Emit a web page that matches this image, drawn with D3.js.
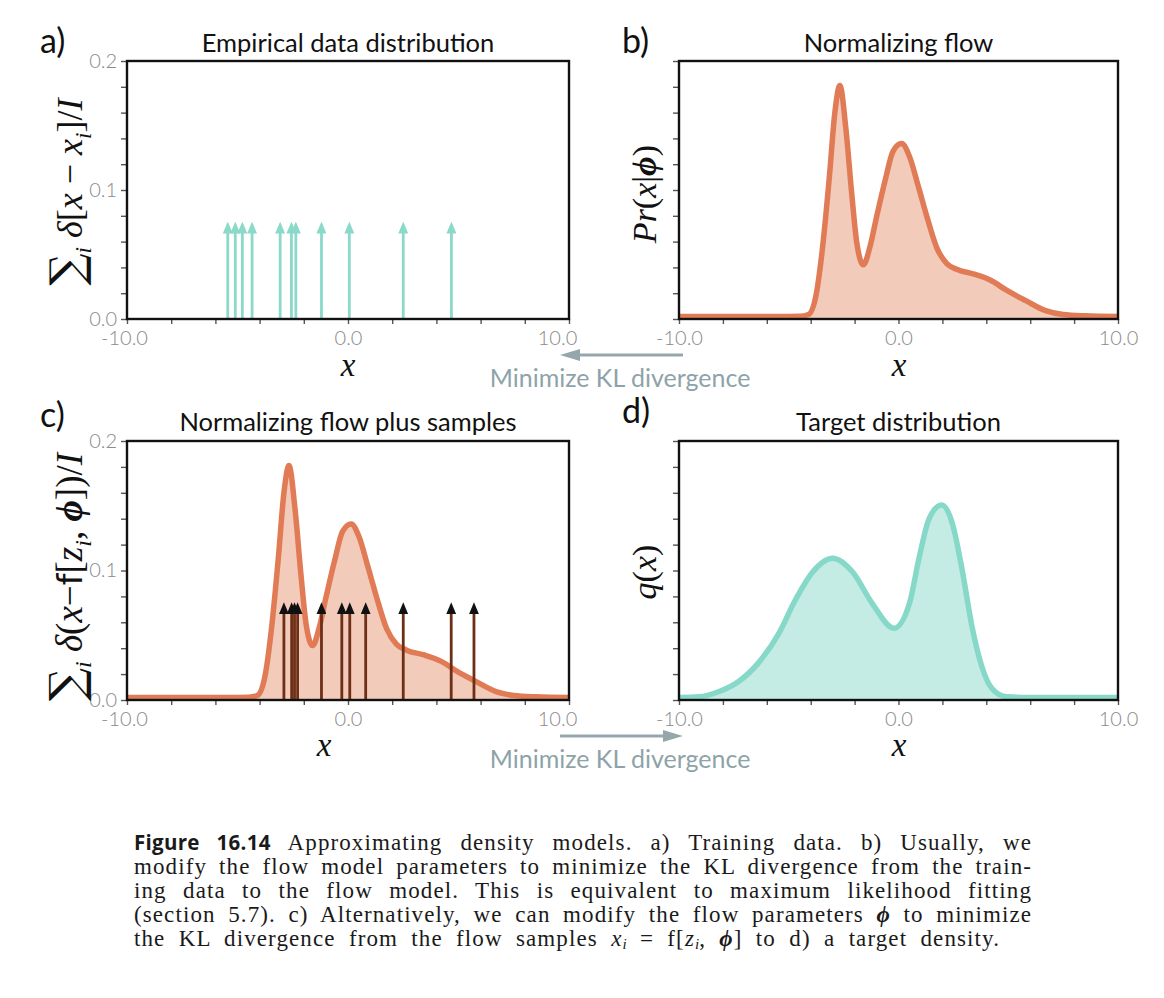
<!DOCTYPE html>
<html>
<head>
<meta charset="utf-8">
<script src="https://cdn.jsdelivr.net/npm/d3@7"></script>
<style>
  body { margin: 0; background: #fff; }
  #caption {
    position: absolute; left: 134px; top: 830px; width: 898px;
    font-family: "Liberation Serif", serif; font-size: 23px; line-height: 24px;
    color: #1a1a1a; letter-spacing: 1.1px;
  }
  #caption div { text-align: justify; text-align-last: justify; white-space: nowrap; }
  #caption div.last { width: 866px; }
  #caption .sf { font-family: "Open Sans", sans-serif; font-weight: 700; font-size: 20.5px; letter-spacing: 0.3px; }
  #caption sub { font-size: 15px; vertical-align: -3px; line-height: 0; letter-spacing: 0; }
</style>
</head>
<body>
<svg id="fig" width="1164" height="998"></svg>
<script>
// ---- data ----
const panelTitles = ['Empirical data distribution', 'Normalizing flow', 'Normalizing flow plus samples', 'Target distribution']
const panelLetters = ['a)', 'b)', 'c)', 'd)']

const xTickValues = [-10, -8, -6, -4, -2, 0, 2, 4, 6, 8, 10]
const xLabelValues = [-10, 0, 10]
const xLabelText = ['-10.0', '0.0', '10.0']
const yTickValues = [0, 0.02, 0.04, 0.06, 0.08, 0.1, 0.12, 0.14, 0.16, 0.18, 0.2]
const yLabelValues = [0, 0.1, 0.2]
const yLabelText = ['0.0', '0.1', '0.2']

// training data points (panel a)
const dataX = [-5.44, -5.1, -4.78, -4.34, -3.07, -2.56, -2.36, -1.2, 0.06, 2.5, 4.68]
// flow samples (panel c)
const sampleX = [-2.9, -2.55, -2.42, -2.28, -1.2, -0.28, 0.08, 0.8, 2.5, 4.67, 5.7]
const arrowTip = 0.0755

// normalizing flow density
const flowX = [-10, -7, -5, -4.5, -4.1, -3.75, -3.45, -3.15, -2.9, -2.67, -2.4, -2.13, -1.9, -1.6, -1.3, -1.0, -0.6, -0.25, 0.14, 0.5, 0.9, 1.3, 1.75, 2.2, 2.65, 3.4, 4.2, 4.9, 5.8, 6.7, 7.5, 8.5, 10]
const flowY = [0.002, 0.002, 0.002, 0.0021, 0.0035, 0.019, 0.057, 0.110, 0.160, 0.181, 0.148, 0.097, 0.059, 0.042, 0.056, 0.079, 0.108, 0.130, 0.136, 0.126, 0.103, 0.079, 0.055, 0.043, 0.0385, 0.035, 0.030, 0.0225, 0.0142, 0.0065, 0.0035, 0.0025, 0.002]

// target density
const targetX = [-10, -9.1, -8.2, -7.3, -6.4, -5.45, -4.7, -3.9, -3.0, -2.1, -1.2, -0.2, 0.5, 0.95, 1.4, 1.97, 2.45, 2.9, 3.35, 3.8, 4.25, 4.9, 6, 10]
const targetY = [0.002, 0.0025, 0.0064, 0.0141, 0.0283, 0.0515, 0.0772, 0.099, 0.1094, 0.099, 0.0747, 0.0554, 0.0747, 0.1107, 0.1403, 0.1506, 0.1365, 0.1004, 0.0566, 0.0257, 0.009, 0.0025, 0.002, 0.002]

const arrowText = 'Minimize KL divergence'

const captionLines = [
  '<span class="sf">Figure 16.14</span> Approximating density models. a) Training data. b) Usually, we',
  'modify the flow model parameters to minimize the KL divergence from the train-',
  'ing data to the flow model. This is equivalent to maximum likelihood fitting',
  '(section 5.7). c) Alternatively, we can modify the flow parameters <b><i>ϕ</i></b> to minimize',
  'the KL divergence from the flow samples <i>x</i><sub><i>i</i></sub> = f[<i>z</i><sub><i>i</i></sub>, <b><i>ϕ</i></b>] to d) a target density.'
]

// ---- colours ----
const FLOW_LINE = '#e07b56'
const FLOW_FILL = '#f3cbbb'
const TEAL_LINE = '#86d8c8'
const TEAL_FILL = '#c4ebe4'
const TEAL_ARROW = '#8ad9c9'
const BROWN = '#6e2f17'
const GREY = '#95a7ab'
const MATH = '"Liberation Serif", serif'
const SANS = 'Lato, "Open Sans", sans-serif'

const svg = d3.select('#fig')
const defs = svg.append('defs')

function addMarker(id, color, len, wid, ref) {
    defs.append('marker')
        .attr('id', id)
        .attr('viewBox', `0 0 ${len} ${wid}`)
        .attr('refX', ref).attr('refY', wid / 2)
        .attr('markerWidth', len).attr('markerHeight', wid)
        .attr('markerUnits', 'userSpaceOnUse')
        .attr('orient', 'auto')
        .append('path')
        .attr('d', `M0,0 L${len},${wid / 2} L0,${wid} Z`)
        .attr('fill', color)
}
addMarker('headTeal', TEAL_ARROW, 12, 10, 5)
addMarker('headBlack', '#111', 12, 10, 5)
addMarker('headGrey', GREY, 20, 12, 8)

// math text helper: segments of [text, kind]
function mathText(sel, segs, size) {
    const t = sel.append('text')
        .attr('text-anchor', 'middle')
        .style('font-family', MATH)
        .style('font-size', size + 'px')
        .attr('fill', '#111')
    let shifted = 0
    segs.forEach(([txt, kind]) => {
        const ts = t.append('tspan').text(txt)
        let dy = 0
        const sub = Math.round(size * 0.24)
        if (kind === 'sub') { dy = sub - shifted; shifted = sub } else { dy = -shifted; shifted = 0 }
        if (dy) ts.attr('dy', dy)
        if (kind === 'it') ts.style('font-style', 'italic')
        if (kind === 'bit') ts.style('font-style', 'italic').style('font-weight', 'bold')
        if (kind === 'sub') ts.style('font-style', 'italic').style('font-size', (size * 0.65) + 'px')
        if (kind === 'sum') ts.style('font-family', '"DejaVu Serif", serif').style('font-size', (size * 1.25) + 'px')
        if (kind === 'sf') ts.style('font-family', '"DejaVu Sans", sans-serif').style('font-size', (size * 0.9) + 'px')
    })
    return t
}

// layout of the four panels (pixels); labelShift nudges the -10/10 tick labels as in the original
const panels = [
    { left: 127, top: 61, w: 442, h: 258, labels: true, titleY: 52, letterX: 40, letterY: 53, xlabX: 348, xlabY: 376, ylabX: 82, ylabY: 192, ylabSize: 36, labelShift: [-3, 0, -12],
      ylab: [['∑', 'sum'], ['i', 'sub'], [' δ', 'it'], ['[', 'rm'], ['x', 'it'], [' − ', 'rm'], ['x', 'it'], ['i', 'sub'], [']/', 'rm'], ['I', 'it']] },
    { left: 679, top: 61, w: 439, h: 258, labels: false, titleY: 52, letterX: 622, letterY: 53, xlabX: 899, xlabY: 376, ylabX: 656, ylabY: 194, ylabSize: 34, labelShift: [0, 0, 0],
      ylab: [['Pr', 'it'], ['(', 'rm'], ['x', 'it'], ['|', 'rm'], ['ϕ', 'bit'], [')', 'rm']] },
    { left: 127, top: 441, w: 442, h: 259, labels: true, titleY: 431, letterX: 40, letterY: 427, xlabX: 324, xlabY: 756, ylabX: 82, ylabY: 577, ylabSize: 37, labelShift: [-3, 0, -12],
      ylab: [['∑', 'sum'], ['i', 'sub'], [' δ', 'it'], ['(', 'rm'], ['x', 'it'], ['−', 'rm'], ['f', 'sf'], ['[', 'rm'], ['z', 'it'], ['i', 'sub'], [', ', 'rm'], ['ϕ', 'bit'], ['])/', 'rm'], ['I', 'it']] },
    { left: 679, top: 441, w: 439, h: 259, labels: false, titleY: 431, letterX: 622, letterY: 423, xlabX: 899, xlabY: 756, ylabX: 656, ylabY: 572, ylabSize: 34, labelShift: [0, 0, 0],
      ylab: [['q', 'it'], ['(', 'rm'], ['x', 'it'], [')', 'rm']] }
]

function drawPanel(p, i) {
    const g = svg.append('g').attr('transform', `translate(${p.left},${p.top})`)
    const x = d3.scaleLinear().domain([-10, 10]).range([0, p.w])
    const y = d3.scaleLinear().domain([0, 0.2]).range([p.h, 0])

    // x axis
    const xa = g.append('g')
        .attr('transform', `translate(0,${p.h})`)
        .call(d3.axisBottom(x).tickValues(xTickValues).tickSize(5).tickPadding(7)
            .tickFormat(d => { const k = xLabelValues.indexOf(d); return k >= 0 ? xLabelText[k] : '' }))
    xa.selectAll('.tick text').attr('dx', d => {
        const k = xLabelValues.indexOf(d)
        return k >= 0 ? p.labelShift[k] : 0
    })
    // y axis
    const ya = g.append('g')
        .call(d3.axisLeft(y).tickValues(yTickValues).tickSize(6).tickPadding(4)
            .tickFormat(d => {
                if (!p.labels) return ''
                const k = yLabelValues.findIndex(v => Math.abs(v - d) < 1e-9)
                return k >= 0 ? yLabelText[k] : ''
            }))
    ;[xa, ya].forEach(a => {
        a.select('.domain').remove()
        a.selectAll('.tick line').attr('stroke', '#555').attr('stroke-width', 1.4)
        a.selectAll('.tick text').attr('fill', '#8a8a8a')
            .style('font-family', SANS).style('font-weight', 300).style('font-size', '20px')
    })

    // title and panel letter
    svg.append('text')
        .attr('x', p.left + p.w / 2).attr('y', p.titleY)
        .attr('text-anchor', 'middle')
        .style('font-family', SANS).style('font-size', '25.5px')
        .attr('fill', '#111')
        .text(panelTitles[i])
    svg.append('text')
        .attr('x', p.letterX).attr('y', p.letterY)
        .style('font-family', SANS).style('font-size', '34px')
        .attr('fill', '#111')
        .text(panelLetters[i])

    // axis labels
    mathText(svg.append('g').attr('transform', `translate(${p.xlabX},${p.xlabY})`), [['x', 'it']], 33)
    mathText(svg.append('g').attr('transform', `translate(${p.ylabX},${p.ylabY}) rotate(-90)`), p.ylab, p.ylabSize)

    return { g, x, y }
}

function drawDensity(pn, xs, ys, line, fill) {
    const pts = xs.map((v, k) => [v, ys[k]])
    pn.g.append('path')
        .datum(pts)
        .attr('d', d3.area().x(d => pn.x(d[0])).y0(pn.y(0)).y1(d => pn.y(d[1])).curve(d3.curveMonotoneX))
        .attr('fill', fill)
    pn.g.append('path')
        .datum(pts)
        .attr('d', d3.line().x(d => pn.x(d[0])).y(d => pn.y(d[1])).curve(d3.curveMonotoneX))
        .attr('fill', 'none')
        .attr('stroke', line)
        .attr('stroke-width', 5.5)
        .attr('stroke-linejoin', 'round')
}

function drawArrows(pn, xs, color, marker) {
    pn.g.selectAll(null)
        .data(xs)
        .enter()
        .append('line')
        .attr('x1', d => pn.x(d)).attr('x2', d => pn.x(d))
        .attr('y1', pn.y(0)).attr('y2', pn.y(arrowTip) + 7)
        .attr('stroke', color)
        .attr('stroke-width', 2.8)
        .attr('marker-end', `url(#${marker})`)
}

function drawFrame(pn, p) {
    pn.g.append('rect')
        .attr('width', p.w).attr('height', p.h)
        .attr('fill', 'none')
        .attr('stroke', '#111')
        .attr('stroke-width', 2.4)
}

const pa = drawPanel(panels[0], 0)
drawArrows(pa, dataX, TEAL_ARROW, 'headTeal')
drawFrame(pa, panels[0])

const pb = drawPanel(panels[1], 1)
drawDensity(pb, flowX, flowY, FLOW_LINE, FLOW_FILL)
drawFrame(pb, panels[1])

const pc = drawPanel(panels[2], 2)
drawDensity(pc, flowX, flowY, FLOW_LINE, FLOW_FILL)
drawArrows(pc, sampleX, BROWN, 'headBlack')
drawFrame(pc, panels[2])

const pd = drawPanel(panels[3], 3)
drawDensity(pd, targetX, targetY, TEAL_LINE, TEAL_FILL)
drawFrame(pd, panels[3])

// "Minimize KL divergence" arrows between panels
function bigArrow(x1, x2, yLine, yText) {
    svg.append('line')
        .attr('x1', x1).attr('x2', x2).attr('y1', yLine).attr('y2', yLine)
        .attr('stroke', GREY).attr('stroke-width', 3)
        .attr('marker-end', 'url(#headGrey)')
    svg.append('text')
        .attr('x', 620).attr('y', yText)
        .attr('text-anchor', 'middle')
        .style('font-family', SANS).style('font-size', '25px')
        .attr('fill', '#8ea3a8')
        .text(arrowText)
}
bigArrow(683, 572, 355, 387)
bigArrow(560, 671, 736, 768)

// caption: each line justified; the last one ends short as in the original
d3.select('body').append('div')
    .attr('id', 'caption')
    .selectAll('div')
    .data(captionLines)
    .join('div')
    .attr('class', (d, i) => i === captionLines.length - 1 ? 'last' : null)
    .html(d => d)
</script>
</body>
</html>
